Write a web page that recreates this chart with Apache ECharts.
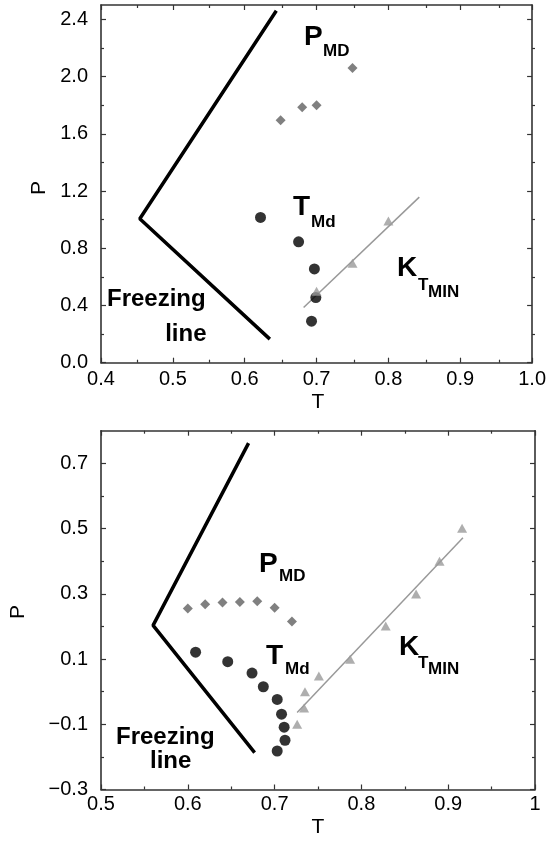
<!DOCTYPE html>
<html>
<head>
<meta charset="utf-8">
<script src="https://cdn.jsdelivr.net/npm/echarts@6/dist/echarts.min.js"></script>
<style>
  html, body { margin: 0; padding: 0; background: #fff; }
  #chart { width: 549px; height: 842px; }
</style>
</head>
<body>
<div id="chart"></div>
<script>
// ---------- data (T, P) ----------
// Upper panel
const freezeTop = [[0.644, 2.46], [0.454, 1.006], [0.635, 0.165]];
const pmdTop = [[0.65, 1.695], [0.68, 1.785], [0.70, 1.80], [0.75, 2.06]];
const tmdTop = [[0.622, 1.015], [0.675, 0.845], [0.697, 0.655], [0.699, 0.455], [0.693, 0.29]];
const ktTop = [[0.70, 0.50], [0.75, 0.695], [0.80, 0.99]];
const ktFitTop = [[0.682, 0.386], [0.843, 1.157]];
// Lower panel
const freezeBot = [[0.670, 0.762], [0.560, 0.203], [0.677, -0.187]];
const pmdBot = [[0.60, 0.255], [0.62, 0.268], [0.64, 0.273], [0.66, 0.275], [0.68, 0.277], [0.70, 0.257], [0.72, 0.215]];
const tmdBot = [[0.609, 0.121], [0.646, 0.092], [0.674, 0.057], [0.687, 0.015], [0.703, -0.024],
                [0.708, -0.069], [0.711, -0.109], [0.712, -0.149], [0.703, -0.182]];
const ktBot = [[0.726, -0.100], [0.734, -0.050], [0.735, 0.000], [0.751, 0.048], [0.787, 0.099],
               [0.828, 0.201], [0.863, 0.299], [0.890, 0.400], [0.916, 0.501]];
const ktFitBot = [[0.726, -0.064], [0.917, 0.472]];

// ---------- ticks ----------
const topXRange = [0.4, 1.0];
const topXTicks = [0.4, 0.5, 0.6, 0.7, 0.8, 0.9, 1.0];
const topXMinor = [0.45, 0.55, 0.65, 0.75, 0.85, 0.95];
const topYRange = [0, 2.5];
const topYTicks = [0.0, 0.4, 0.8, 1.2, 1.6, 2.0, 2.4];
const topYMinor = [0.2, 0.6, 1.0, 1.4, 1.8, 2.2];
const botXRange = [0.5, 1.0];
const botXTicks = [0.5, 0.6, 0.7, 0.8, 0.9, 1.0];
const botXMinor = [0.55, 0.65, 0.75, 0.85, 0.95];
const botYRange = [-0.3, 0.8];
const botYTicks = [-0.3, -0.1, 0.1, 0.3, 0.5, 0.7];
const botYMinor = [-0.2, 0.0, 0.2, 0.4, 0.6];

const FONT = '"Liberation Sans", Arial, Helvetica, sans-serif';
const FRAME = '#333';

const grids = [
  { left: 101, top: 5, width: 434, height: 357.7 },
  { left: 101, top: 430.7, width: 434, height: 358.8 },
  { left: 101, top: 5, width: 434, height: 357.7 },
  { left: 101, top: 430.7, width: 434, height: 358.8 }
];

function fmtTopX(v) { return v.toFixed(1); }
function fmtTopY(v) { return v.toFixed(1); }
function fmtBotX(v) { return String(Number(v.toFixed(1))); }
function fmtBotY(v) { return v.toFixed(1).replace('-', '\u2212'); }

function axis(grid, pos, range, ticks, len, showLine, labelFmt, margin) {
  return {
    type: 'value', gridIndex: grid, position: pos,
    min: range[0], max: range[1],
    axisLine: { show: showLine, onZero: false, lineStyle: { color: FRAME, width: 1.6 } },
    axisTick: { show: true, inside: true, length: len, customValues: ticks,
                lineStyle: { color: FRAME, width: 1.2 } },
    axisLabel: labelFmt ? { show: true, customValues: ticks, formatter: labelFmt, margin: margin,
                fontSize: 20, color: '#000', fontFamily: FONT } : { show: false },
    splitLine: { show: false },
    minorTick: { show: false }
  };
}

const xAxes = [
  axis(0, 'bottom', topXRange, topXTicks, 5, true, fmtTopX, 7),   // 0
  axis(0, 'top', topXRange, topXTicks, 5, true, null),            // 1
  axis(1, 'bottom', botXRange, botXTicks, 5, true, fmtBotX, 5),   // 2
  axis(1, 'top', botXRange, botXTicks, 5, true, null),            // 3
  axis(2, 'bottom', topXRange, topXMinor, 3, false, null),        // 4
  axis(2, 'top', topXRange, topXMinor, 3, false, null),           // 5
  axis(3, 'bottom', botXRange, botXMinor, 3, false, null),        // 6
  axis(3, 'top', botXRange, botXMinor, 3, false, null)            // 7
];
const yAxes = [
  axis(0, 'left', topYRange, topYTicks, 5, true, fmtTopY, 13),
  axis(0, 'right', topYRange, topYTicks, 5, true, null),
  axis(1, 'left', botYRange, botYTicks, 5, true, fmtBotY, 13),
  axis(1, 'right', botYRange, botYTicks, 5, true, null),
  axis(2, 'left', topYRange, topYMinor, 3, false, null),
  axis(2, 'right', topYRange, topYMinor, 3, false, null),
  axis(3, 'left', botYRange, botYMinor, 3, false, null),
  axis(3, 'right', botYRange, botYMinor, 3, false, null)
];

function lineSeries(data, xi, yi, color, width) {
  return { type: 'line', data: data, xAxisIndex: xi, yAxisIndex: yi, showSymbol: false, symbol: 'none',
           lineStyle: { color: color, width: width }, z: 3, silent: true };
}
function scatter(data, xi, yi, symbol, size, color) {
  return { type: 'scatter', data: data, xAxisIndex: xi, yAxisIndex: yi, symbol: symbol, symbolSize: size,
           itemStyle: { color: color }, z: 4, silent: true };
}

const series = [
  lineSeries(freezeTop, 0, 0, '#000', 3.5),
  scatter(pmdTop, 0, 0, 'diamond', 10, '#606060'),
  scatter(tmdTop, 0, 0, 'circle', 11, '#000'),
  scatter(ktTop, 0, 0, 'triangle', [10, 9], '#9a9a9a'),
  lineSeries(ktFitTop, 0, 0, '#999', 1.5),
  lineSeries(freezeBot, 2, 2, '#000', 3.5),
  scatter(pmdBot, 2, 2, 'diamond', 10, '#606060'),
  scatter(tmdBot, 2, 2, 'circle', 11, '#000'),
  scatter(ktBot, 2, 2, 'triangle', [10, 9], '#9a9a9a'),
  lineSeries(ktFitBot, 2, 2, '#999', 1.5)
];

function txt(x, y, s, size, align) {
  return { type: 'text', x: x, y: y, silent: true,
           style: { text: s, fontSize: size, fontWeight: 'bold',
                    fontFamily: FONT, fill: '#000', align: align || 'left', verticalAlign: 'middle' } };
}
function axName(x, y, s, rot) {
  return { type: 'text', x: x, y: y, rotation: rot, silent: true,
           style: { text: s, fontSize: 21, fontFamily: FONT, fill: '#000', align: 'center', verticalAlign: 'middle' } };
}

const graphic = [
  // upper panel annotations
  txt(304, 37, 'P', 28), txt(323, 51.5, 'MD', 17),
  txt(293, 207.5, 'T', 28), txt(311, 222.5, 'Md', 17),
  txt(397, 268.7, 'K', 28), txt(418, 285, 'T', 17), txt(428, 292.5, 'MIN', 17),
  txt(107, 299, 'Freezing', 24), txt(206.5, 334, 'line', 24, 'right'),
  // lower panel annotations
  txt(259, 564, 'P', 28), txt(279, 576, 'MD', 17),
  txt(266, 656.5, 'T', 28), txt(285, 669, 'Md', 17),
  txt(399, 647, 'K', 28), txt(418, 663, 'T', 17), txt(428, 669, 'MIN', 17),
  txt(116, 737, 'Freezing', 24), txt(150, 761, 'line', 24),
  // axis names
  axName(39, 188, 'P', Math.PI / 2), axName(318, 402, 'T', 0),
  axName(18, 612, 'P', Math.PI / 2), axName(318, 827, 'T', 0)
];

const chart = echarts.init(document.getElementById('chart'), null, { renderer: 'canvas' });
chart.setOption({
  animation: false,
  backgroundColor: '#fff',
  grid: grids,
  xAxis: xAxes,
  yAxis: yAxes,
  series: series,
  graphic: graphic
});
</script>
</body>
</html>
